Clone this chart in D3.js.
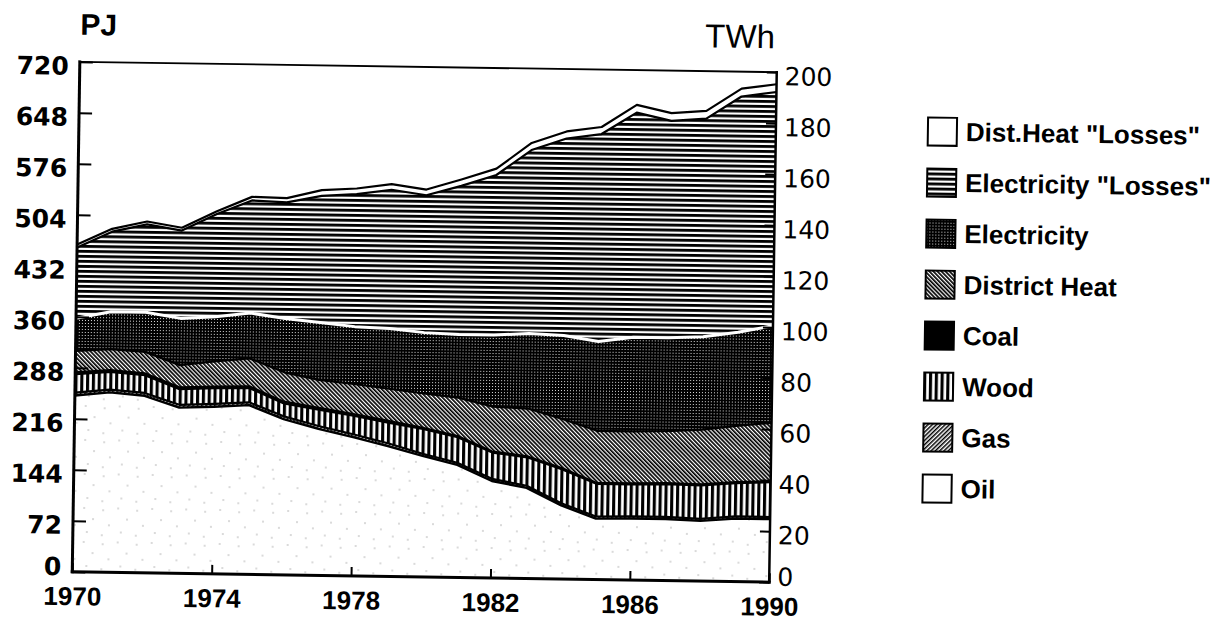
<!DOCTYPE html>
<html>
<head>
<meta charset="utf-8">
<script src="https://cdn.jsdelivr.net/npm/d3@7"></script>
<style>
  html, body { margin: 0; padding: 0; background: #fff; }
  svg { display: block; }
</style>
</head>
<body>
<svg id="chart" width="1230" height="622"></svg>
<script>
// Final energy use by carrier, PJ per year (stacked bottom to top)
const years = [1970, 1971, 1972, 1973, 1974, 1975, 1976, 1977, 1978, 1979, 1980,
               1981, 1982, 1983, 1984, 1985, 1986, 1987, 1988, 1989, 1990];
const oil               = [249, 254, 250, 234, 236, 239, 220, 207, 196, 184, 171, 159, 137, 128, 104, 86, 87, 87, 85, 89, 89];
const gas               = [4, 4, 4, 4, 4, 4, 4, 4, 4, 4, 3, 3, 3, 3, 3, 3, 3, 3, 3, 3, 3];
const wood              = [26, 25, 25, 22, 22, 20, 18, 23, 26, 29, 35, 36, 37, 40, 48, 46, 45, 46, 47, 47, 49];
const coal              = [3, 3, 3, 3, 3, 3, 3, 3, 3, 3, 2, 2, 2, 2, 2, 2, 2, 2, 2, 2, 2];
const districtHeat      = [30, 29, 30, 31, 35, 39, 41, 39, 42, 45, 48, 54, 63, 67, 69, 73, 73, 73, 77, 79, 82];
const electricity       = [46, 53, 56, 66, 63, 64, 76, 81, 81, 85, 86, 89, 101, 106, 118, 126, 133, 132, 131, 132, 137];
const electricityLosses = [100, 113, 124, 124, 145, 159, 164, 179, 187, 196, 194, 210, 226, 259, 278, 293, 317, 306, 308, 333, 330];
const distHeatLosses    = [4, 4, 4, 4, 4, 5, 6, 8, 8, 8, 8, 9, 9, 10, 10, 10, 11, 11, 11, 11, 11];

const seriesNames = ["Oil", "Gas", "Wood", "Coal", "District Heat", "Electricity",
                     "Electricity \"Losses\"", "Dist.Heat \"Losses\""];
const seriesValues = [oil, gas, wood, coal, districtHeat, electricity, electricityLosses, distHeatLosses];

// Axis ticks
const pjTicks = [0, 72, 144, 216, 288, 360, 432, 504, 576, 648, 720];
const twhTicks = [0, 20, 40, 60, 80, 100, 120, 140, 160, 180, 200];
const yearTicks = [1970, 1974, 1978, 1982, 1986, 1990];

// ---- layout ----
const plot = { left: 76, right: 773, top: 67, bottom: 577 };
const tilt = 0.85; // degrees, whole page is set slightly askew

const svg = d3.select("#chart");
const defs = svg.append("defs");

// ---- fill patterns ----
function pattern(id, w, h, transform) {
  const p = defs.append("pattern")
    .attr("id", id)
    .attr("patternUnits", "userSpaceOnUse")
    .attr("width", w).attr("height", h);
  if (transform) p.attr("patternTransform", transform);
  return p;
}

// Oil: sparse stipple
{
  const p = pattern("p-oil", 34, 34);
  p.append("rect").attr("width", 34).attr("height", 34).attr("fill", "#fff");
  [[4, 5], [19, 3], [28, 14], [10, 20], [22, 27], [3, 30]].forEach(([cx, cy]) =>
    p.append("circle").attr("cx", cx).attr("cy", cy).attr("r", 0.7).attr("fill", "#999"));
}
// Gas: /// hatch
{
  const p = pattern("p-gas", 3, 3, "rotate(45)");
  p.append("rect").attr("width", 3).attr("height", 3).attr("fill", "#fff");
  p.append("rect").attr("width", 1.5).attr("height", 3).attr("fill", "#000");
}
// Wood: vertical bars
{
  const p = pattern("p-wood", 5.8, 10);
  p.append("rect").attr("width", 5.8).attr("height", 10).attr("fill", "#fff");
  p.append("rect").attr("width", 3.1).attr("height", 10).attr("fill", "#000");
}
// District heat: \\\ hatch
{
  const p = pattern("p-dh", 2.9, 3, "rotate(-45)");
  p.append("rect").attr("width", 2.9).attr("height", 3).attr("fill", "#fff");
  p.append("rect").attr("width", 1.7).attr("height", 3).attr("fill", "#000");
}
// Electricity: dense dot screen
{
  const p = pattern("p-el", 3, 3);
  p.append("rect").attr("width", 3).attr("height", 3).attr("fill", "#000");
  p.append("circle").attr("cx", 1.5).attr("cy", 1.5).attr("r", 0.58).attr("fill", "#fff");
}
// Electricity losses: horizontal rules
{
  const p = pattern("p-elloss", 10, 5);
  p.append("rect").attr("width", 10).attr("height", 5).attr("fill", "#fff");
  p.append("rect").attr("width", 10).attr("height", 2.8).attr("fill", "#000");
}

const fills = {
  "Oil": "url(#p-oil)",
  "Gas": "url(#p-gas)",
  "Wood": "url(#p-wood)",
  "Coal": "#000",
  "District Heat": "url(#p-dh)",
  "Electricity": "url(#p-el)",
  "Electricity \"Losses\"": "url(#p-elloss)",
  "Dist.Heat \"Losses\"": "#fff"
};
const legendFills = Object.assign({}, fills, { "Oil": "#fff" });
// outline drawn along the top of each layer
const edges = {
  "Oil": { color: "#000", width: 2.4 },
  "Gas": { color: "#000", width: 2.2 },
  "Wood": { color: "#000", width: 2 },
  "Coal": { color: "#000", width: 1.6 },
  "District Heat": { color: "#000", width: 2.2 },
  "Electricity": { color: "#fff", width: 3 },
  "Electricity \"Losses\"": { color: "#000", width: 2.2 },
  "Dist.Heat \"Losses\"": { color: "#000", width: 2.2 }
};

// ---- data table & stack ----
const rows = years.map((yr, i) => {
  const r = { year: yr };
  seriesNames.forEach((k, j) => { r[k] = seriesValues[j][i]; });
  return r;
});
const stacked = d3.stack().keys(seriesNames)(rows);

// ---- scales ----
const x = d3.scaleLinear().domain([1970, 1990]).range([plot.left, plot.right]);
const yPJ = d3.scaleLinear().domain([0, 720]).range([plot.bottom, plot.top]);
const yTWh = d3.scaleLinear().domain([0, 200]).range([plot.bottom, plot.top]);

const g = svg.append("g")
  .attr("transform", `rotate(${tilt},${(plot.left + plot.right) / 2},${(plot.top + plot.bottom) / 2})`);

defs.append("clipPath").attr("id", "plot-clip")
  .append("rect")
  .attr("x", plot.left).attr("y", plot.top)
  .attr("width", plot.right - plot.left).attr("height", plot.bottom - plot.top);

const area = d3.area()
  .x(d => x(d.data.year))
  .y0(d => yPJ(d[0]))
  .y1(d => yPJ(d[1]));
const topLine = d3.line()
  .x(d => x(d.data.year))
  .y(d => yPJ(d[1]));

const plotG = g.append("g").attr("clip-path", "url(#plot-clip)");
plotG.selectAll("path.layer")
  .data(stacked)
  .join("path")
  .attr("class", "layer")
  .attr("d", area)
  .attr("fill", d => fills[d.key]);

plotG.selectAll("path.edge")
  .data(stacked)
  .join("path")
  .attr("class", "edge")
  .attr("d", topLine)
  .attr("fill", "none")
  .attr("stroke", d => edges[d.key].color)
  .attr("stroke-width", d => edges[d.key].width)
  .attr("stroke-linejoin", "round");

// ---- axes ----
const numFont = "'DejaVu Sans', sans-serif";
const txtFont = "'Liberation Sans', Arial, Helvetica, sans-serif";

const axL = g.append("g")
  .attr("transform", `translate(${plot.left},0)`)
  .call(d3.axisLeft(yPJ).tickValues(pjTicks).tickSize(-13).tickPadding(11).tickFormat(d3.format("d")));
axL.select(".domain").remove();
axL.selectAll(".tick line").attr("stroke", "#000").attr("stroke-width", 2);
axL.selectAll(".tick text")
  .attr("font-family", numFont).attr("font-weight", "bold").attr("font-size", 25)
  .attr("fill", "#000").attr("dy", d => d === 0 ? "0.12em" : "0.5em");

const axR = g.append("g")
  .attr("transform", `translate(${plot.right},0)`)
  .call(d3.axisRight(yTWh).tickValues(twhTicks).tickSize(-10).tickPadding(8).tickFormat(d3.format("d")));
axR.select(".domain").remove();
axR.selectAll(".tick line").attr("stroke", "#000").attr("stroke-width", 2);
axR.selectAll(".tick text")
  .attr("font-family", numFont).attr("font-size", 25)
  .attr("fill", "#000").attr("dy", d => d === 0 ? "0.12em" : "0.5em");

const axB = g.append("g")
  .attr("transform", `translate(0,${plot.bottom})`)
  .call(d3.axisBottom(x).tickValues(yearTicks).tickSize(-9).tickPadding(15).tickFormat(d3.format("d")));
axB.select(".domain").remove();
axB.selectAll(".tick line").attr("stroke", "#000").attr("stroke-width", 2);
axB.selectAll(".tick text")
  .attr("font-family", txtFont).attr("font-weight", "bold").attr("font-size", 26)
  .attr("fill", "#000");

// ---- frame ----
const frame = g.append("g").attr("stroke", "#000").attr("stroke-linecap", "square");
frame.append("line").attr("x1", plot.left).attr("x2", plot.right).attr("y1", plot.top).attr("y2", plot.top).attr("stroke-width", 1.8);
frame.append("line").attr("x1", plot.left).attr("x2", plot.right).attr("y1", plot.bottom).attr("y2", plot.bottom).attr("stroke-width", 3);
frame.append("line").attr("x1", plot.left).attr("x2", plot.left).attr("y1", plot.top).attr("y2", plot.bottom).attr("stroke-width", 3);
frame.append("line").attr("x1", plot.right).attr("x2", plot.right).attr("y1", plot.top).attr("y2", plot.bottom).attr("stroke-width", 2.5);

// ---- unit labels ----
g.append("text").text("PJ")
  .attr("x", plot.left).attr("y", 40)
  .attr("font-family", txtFont).attr("font-weight", "bold").attr("font-size", 30);
g.append("text").text("TWh")
  .attr("x", 701).attr("y", 43)
  .attr("font-family", txtFont).attr("font-size", 33);

// ---- legend ----
const legendItems = seriesNames.slice().reverse();
const legend = g.append("g").attr("transform", "translate(924,124)");
const item = legend.selectAll("g.item")
  .data(legendItems)
  .join("g")
  .attr("class", "item")
  .attr("transform", (d, i) => `translate(0,${i * 51})`);
item.append("rect")
  .attr("x", 1).attr("y", -14).attr("width", 29).attr("height", 28)
  .attr("fill", d => legendFills[d])
  .attr("stroke", "#000").attr("stroke-width", 2);
item.append("text")
  .text(d => d)
  .attr("x", 39).attr("dy", "0.35em")
  .attr("font-family", txtFont).attr("font-weight", "bold").attr("font-size", 26)
  .attr("fill", "#000");
</script>
</body>
</html>
